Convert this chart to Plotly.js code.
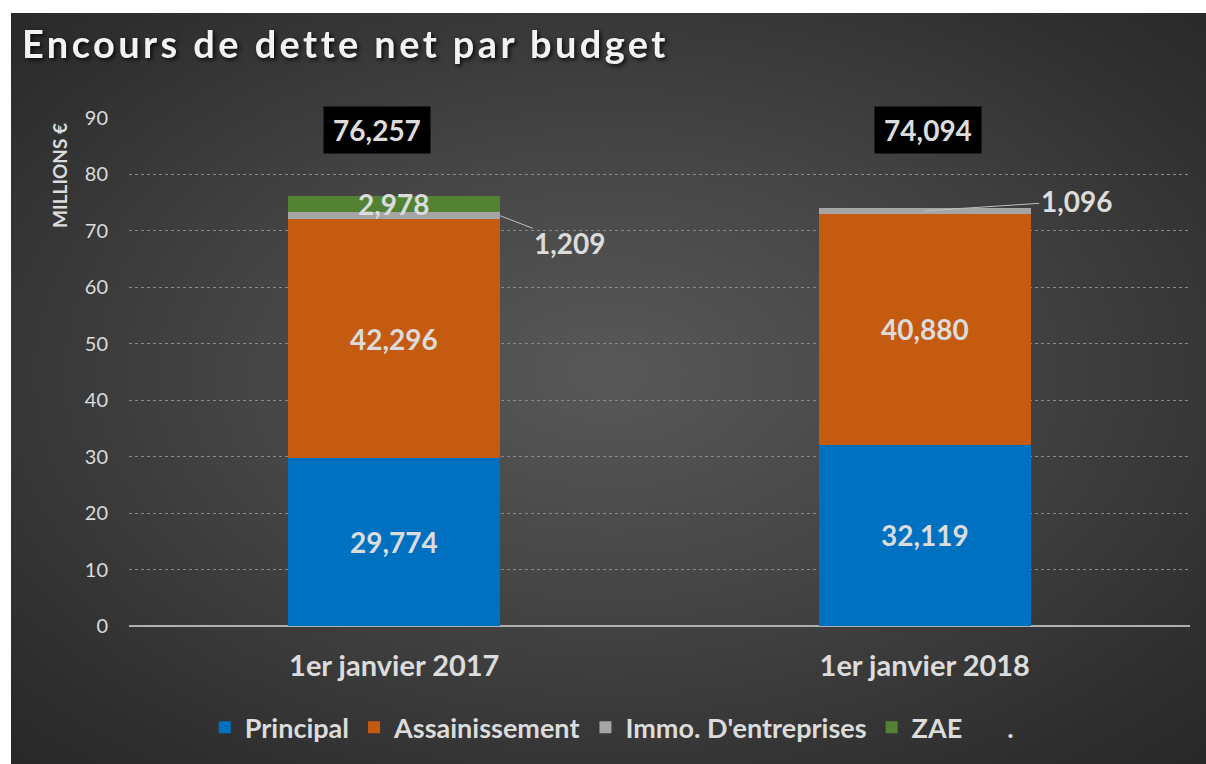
<!DOCTYPE html>
<html>
<head>
<meta charset="utf-8">
<script src="https://cdn.plot.ly/plotly-3.0.1.min.js"></script>
<style>
  html, body { margin: 0; padding: 0; background: #ffffff; width: 1206px; height: 764px; overflow: hidden; }
  #wrap { position: absolute; left: 11px; top: 13px; width: 1195px; height: 751px;
    background: radial-gradient(ellipse 75% 75% at 50% 48%, #585858 0%, #454545 40%, #2f2f2f 80%, #262626 100%); }
  #chart { width: 1195px; height: 751px; }
  .gtitle { filter: drop-shadow(2px 2px 2px rgba(0,0,0,0.8)); letter-spacing: 3.4px; }
</style>
</head>
<body>
<div id="wrap"><div id="chart"></div></div>
<script>
// ---- Data ----
const categories = ["1er janvier 2017", "1er janvier 2018"];
const seriesNames = ["Principal", "Assainissement", "Immo. D'entreprises", "ZAE"];
const principal = [29.774, 32.119];
const assainissement = [42.296, 40.880];
const immo = [1.209, 1.096];
const zae = [2.978, 0];
const totals = [76.257, 74.094];
const yTicks = [0, 10, 20, 30, 40, 50, 60, 70, 80, 90];

// ---- Style ----
const colors = ["#0070C0", "#C55A11", "#A5A5A5", "#548235"];
const txtColor = "#dcdcdc";
const FONT = "Lato, 'Open Sans', sans-serif";

function fmt(v) { return v.toFixed(3).replace('.', ','); }

const seriesValues = [principal, assainissement, immo, zae];
const traces = seriesValues.map((vals, i) => ({
  type: 'bar',
  name: seriesNames[i],
  x: categories,
  y: vals,
  marker: { color: colors[i], line: { width: 0 } },
  hoverinfo: 'none'
}));
// legend-only "." series (totals holder in the original)
traces.push({
  type: 'bar', name: '.', x: categories, y: [0, 0],
  marker: { color: 'rgba(0,0,0,0)' }, hoverinfo: 'none'
});

const annotations = [];
const labelFont = { family: FONT, size: 28, color: txtColor, weight: 'bold' };
categories.forEach((c, ci) => {
  let base = 0;
  seriesValues.forEach((vals, si) => {
    const v = vals[ci];
    const mid = base + v / 2;
    if (v > 0) {
      if (si === 2) {
        annotations.push({
          x: ci === 0 ? ci + 0.2 : ci, y: mid, xref: 'x', yref: 'y',
          text: '<b>' + fmt(v) + '</b>', font: labelFont,
          showarrow: true, arrowhead: 0, arrowwidth: 1, arrowcolor: '#bfbfbf',
          ax: ci === 0 ? 70 : 152, ay: ci === 0 ? 27 : -10,
          standoff: 0
        });
      } else {
        annotations.push({
          x: ci, y: mid, xref: 'x', yref: 'y', showarrow: false,
          text: '<b>' + fmt(v) + '</b>', font: labelFont
        });
      }
    }
    base += v;
  });
  // totals box
  annotations.push({
    x: ci, y: 87.9, xref: 'x', yref: 'y', showarrow: false,
    xshift: ci === 0 ? -17 : 3,
    text: '<b>' + fmt(totals[ci]) + '</b>', font: labelFont,
    bgcolor: '#000000', borderpad: 6, width: 94, height: 34
  });
});
// y-axis title (top aligned like original)
annotations.push({
  xref: 'paper', yref: 'paper', x: -0.065, y: 0.886, xanchor: 'center', yanchor: 'middle',
  showarrow: false,
  text: '<b>MILLIONS €</b>', textangle: -90,
  font: { family: FONT, size: 19, color: txtColor }
});

const layout = {
  width: 1195, height: 751,
  paper_bgcolor: 'rgba(0,0,0,0)', plot_bgcolor: 'rgba(0,0,0,0)',
  margin: { l: 118, r: 16, t: 105, b: 138 },
  barmode: 'stack', bargap: 0.6,
  font: { family: FONT, color: txtColor },
  title: {
    text: '<b>Encours de dette net par budget</b>',
    font: { family: FONT, size: 38, color: '#f2f2f2' },
    xref: 'container', yref: 'container', x: 11 / 1195, xanchor: 'left',
    y: 1 - 32 / 751, yanchor: 'middle'
  },
  xaxis: {
    type: 'category', showgrid: false, zeroline: false, showline: false, ticks: '',
    tickfont: { family: FONT, size: 29, color: txtColor, weight: 'bold' },
    ticklabelstandoff: 20
  },
  yaxis: {
    range: [0, 90], tickvals: yTicks, ticktext: yTicks.map(String),
    showgrid: true, gridcolor: '#8a8a8a', griddash: 'dot', gridwidth: 1,
    zeroline: true, zerolinecolor: '#b0b0b0', zerolinewidth: 2,
    showline: false, ticks: '',
    tickfont: { family: FONT, size: 20, color: txtColor },
    ticklabelstandoff: 20
  },
  showlegend: true,
  legend: {
    orientation: 'h', x: 0.455, xanchor: 'center', y: -0.2, yanchor: 'middle',
    font: { family: FONT, size: 27, color: txtColor, weight: 'bold' },
    traceorder: 'normal', itemclick: false, itemwidth: 30
  },
  annotations: annotations
};

Plotly.newPlot('chart', traces, layout, { displayModeBar: false, staticPlot: true });
</script>
</body>
</html>
